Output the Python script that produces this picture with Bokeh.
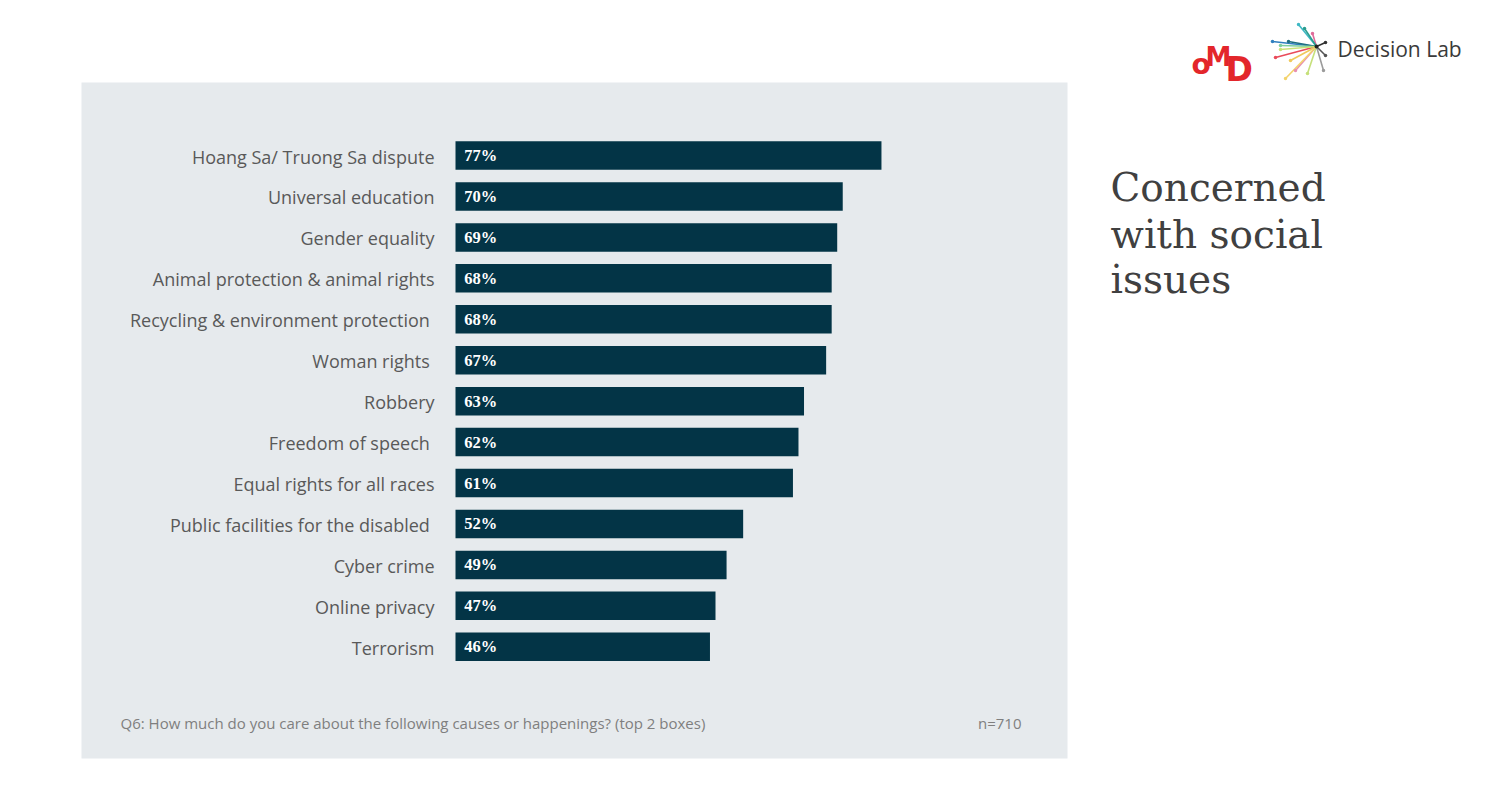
from bokeh.plotting import figure
from bokeh.models import Range1d, ColumnDataSource
from bokeh.core.properties import value
from bokeh.embed import file_html
from bokeh.resources import INLINE

# ---------------- data ----------------
categories = [
    "Hoang Sa/ Truong Sa dispute",
    "Universal education",
    "Gender equality",
    "Animal protection & animal rights",
    "Recycling & environment protection ",
    "Woman rights ",
    "Robbery",
    "Freedom of speech ",
    "Equal rights for all races",
    "Public facilities for the disabled ",
    "Cyber crime",
    "Online privacy",
    "Terrorism",
]
values = [77, 70, 69, 68, 68, 67, 63, 62, 61, 52, 49, 47, 46]
value_labels = [f"{v}%" for v in values]
title_lines = ["Concerned", "with social", "issues"]
footnote = "Q6: How much do you care about the following causes or happenings? (top 2 boxes)"
sample_note = "n=710"

# ---------------- geometry ----------------
W, H = 1484, 780
PX_PER_PCT = 5.532
ROW_PX = 40.94
X0_PX = 455.0   # canvas x of 0%
Y0_PX = 155.0   # canvas y of first row centre
x_start = -X0_PX / PX_PER_PCT
x_end = (W - X0_PX) / PX_PER_PCT
y_top = -Y0_PX / ROW_PX
y_bottom = (H - Y0_PX) / ROW_PX


def px2x(cx):
    return x_start + cx / PX_PER_PCT


def py2y(cy):
    return y_top + cy / ROW_PX


p = figure(width=W, height=H, output_backend="svg", toolbar_location=None,
           x_range=Range1d(x_start, x_end), y_range=Range1d(y_bottom, y_top),
           min_border=0, min_border_left=0, min_border_right=0,
           min_border_top=0, min_border_bottom=0)
p.axis.visible = False
p.grid.visible = False
p.outline_line_color = None
p.background_fill_color = "white"
p.border_fill_color = "white"

# panel
p.quad(left=[px2x(81)], right=[px2x(1067)], top=[py2y(82)], bottom=[py2y(758)],
       fill_color="#e6eaed", line_color=None)

idx = list(range(len(categories)))
src = ColumnDataSource(dict(y=idx, v=values, cat=categories, lab=value_labels))

p.hbar(y="y", left=0, right="v", height=28.5 / ROW_PX, source=src,
       fill_color="#033446", line_color=None)

p.text(x=1.6, y="y", text="lab", source=src, text_color="white",
       text_font=value("Liberation Serif"), text_font_style="bold",
       text_font_size="16.5px", text_baseline="middle", text_align="left")

p.text(x=px2x(434), y="y", text="cat", source=src, text_color="#595959",
       text_font=value("Open Sans"), text_font_size="18px",
       text_baseline="middle", text_align="right", y_offset=1)

# footnote
p.text(x=[px2x(120)], y=[py2y(722)], text=[footnote], text_color="#7f7f7f",
       text_font=value("Open Sans"), text_font_size="15px",
       text_baseline="middle", text_align="left")
p.text(x=[px2x(1021)], y=[py2y(722)], text=[sample_note], text_color="#7f7f7f",
       text_font=value("Open Sans"), text_font_size="15px",
       text_baseline="middle", text_align="right")

# title
for line, base in zip(title_lines, [187, 234, 279]):
    p.text(x=[px2x(1110)], y=[py2y(base)], text=[line], text_color="#404040",
           text_font=value("DejaVu Serif"), text_font_size="39px",
           text_baseline="alphabetic", text_align="left")

# ---------------- logos ----------------
red = "#e3262b"
p.text(x=[px2x(1191)], y=[py2y(64)], text=["o"], text_color=red,
       text_font=value("DejaVu Sans"), text_font_style="bold", text_font_size="28px",
       text_baseline="alphabetic")
p.text(x=[px2x(1205)], y=[py2y(56)], text=["M"], text_color=red,
       text_font=value("DejaVu Sans"), text_font_style="bold", text_font_size="26px",
       text_baseline="alphabetic")
p.text(x=[px2x(1225)], y=[py2y(69)], text=["D"], text_color=red,
       text_font=value("DejaVu Sans"), text_font_style="bold", text_font_size="33px",
       text_baseline="alphabetic")

# starburst (decorative)
cx, cy = 1316, 46
ray_dx = [-18, -4, -44, -28, -36, -41, -26, -21, -31, -9, 7, 9, 9, -12, -36]
ray_dy = [-22, -13, -5, -5, -1, 11, 14, 24, 32, 27, 24, -4, 9, -18, 3]
ray_colors = ["#3fb8c4", "#e06b9a", "#2f7fbf", "#1f6f80", "#7fcf9f", "#e94b5a",
              "#f0c95a", "#e88fb0", "#f3d36b", "#c6e07a", "#9b9b9b", "#333333",
              "#555555", "#2a9d8f", "#c9e27a"]
x0s = [px2x(cx)] * len(ray_dx)
y0s = [py2y(cy)] * len(ray_dx)
x1s = [px2x(cx + d) for d in ray_dx]
y1s = [py2y(cy + d) for d in ray_dy]
p.segment(x0=x0s, y0=y0s, x1=x1s, y1=y1s, line_color=ray_colors, line_width=1.6)
p.scatter(x=x1s, y=y1s, size=3.5, fill_color=ray_colors, line_color=None)
p.scatter(x=[px2x(cx)], y=[py2y(cy)], size=4, fill_color="#222222", line_color=None)

p.text(x=[px2x(1337)], y=[py2y(48)], text=["Decision Lab"], text_color="#3a3a3a",
       text_font=value("Open Sans"), text_font_size="21px",
       text_baseline="middle", text_align="left")

open("out.html", "w").write(file_html(p, INLINE))
